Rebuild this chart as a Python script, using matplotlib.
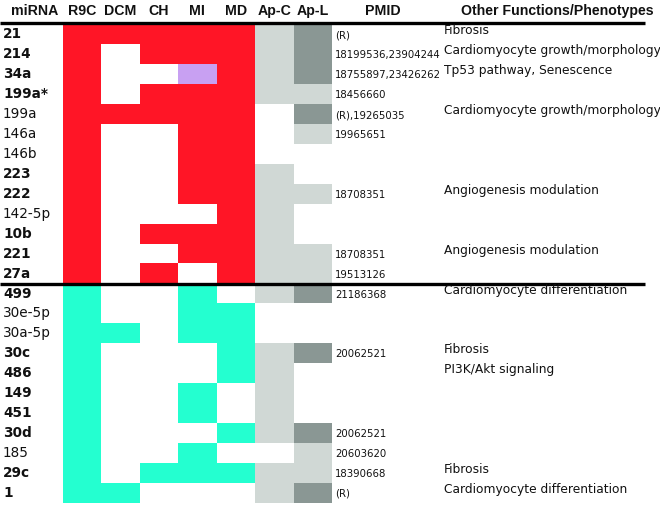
import numpy as np
import matplotlib.pyplot as plt
from matplotlib.colors import to_rgb

# ---- Table content ----
mirnas = ['21', '214', '34a', '199a*', '199a', '146a', '146b', '223', '222',
          '142-5p', '10b', '221', '27a',
          '499', '30e-5p', '30a-5p', '30c', '486', '149', '451', '30d',
          '185', '29c', '1']
bold = [1, 1, 1, 1, 0, 0, 0, 1, 1, 0, 1, 1, 1,
        1, 0, 0, 1, 1, 1, 1, 1, 0, 1, 1]

columns = ['R9C', 'DCM', 'CH', 'MI', 'MD', 'Ap-C', 'Ap-L']

# r=up (red), c=down (cyan), p=purple, w=none, l=light grey, d=dark grey
status = ['rrrrrld', 'rwrrrld', 'rwwprld', 'rwrrrll', 'rrrrrwd',
          'rwwrrwl', 'rwwrrww', 'rwwrrlw', 'rwwrrll', 'rwwwrlw',
          'rwrrrlw', 'rwwrrll', 'rwrwrll',
          'cwwcwld', 'cwwccww', 'ccwccww', 'cwwwcld', 'cwwwclw',
          'cwwcwlw', 'cwwcwlw', 'cwwwcld', 'cwwcwwl', 'cwcccll',
          'ccwwwld']

pmids = ['(R)', '18199536,23904244', '18755897,23426262', '18456660',
         '(R),19265035', '19965651', '', '', '18708351', '', '', '18708351',
         '19513126',
         '21186368', '', '', '20062521', '', '', '', '20062521', '20603620',
         '18390668', '(R)']

functions = ['Fibrosis', 'Cardiomyocyte growth/morphology',
             'Tp53 pathway, Senescence', '', 'Cardiomyocyte growth/morphology',
             '', '', '', 'Angiogenesis modulation', '', '',
             'Angiogenesis modulation', '',
             'Cardiomyocyte differentiation', '', '', 'Fibrosis',
             'PI3K/Akt signaling', '', '', '', '', 'Fibrosis',
             'Cardiomyocyte differentiation']

palette = {'r': '#ff1526', 'c': '#24ffd0', 'p': '#c8a0f2', 'w': '#ffffff',
           'l': '#d0d8d5', 'd': '#8a9794'}

# ---- Geometry (pixel coordinates) ----
x0, col_w = 63, 38.4
y0, row_h = 24.5, 19.93
n_rows = len(mirnas)
n_up = 13

fig = plt.figure(figsize=(6.6, 5.05), dpi=100)
ax = fig.add_axes([0, 0, 1, 1])
ax.set_xlim(0, 660)
ax.set_ylim(505, 0)
ax.axis('off')

rgb = np.array([[to_rgb(palette[ch]) for ch in row] for row in status])
ax.imshow(rgb, extent=(x0, x0 + col_w * len(columns), y0 + row_h * n_rows, y0),
          interpolation='nearest', aspect='auto')

# header
hdr = dict(fontsize=10.2, fontweight='bold', family='Liberation Sans',
           ha='center', va='center', color='#111111')
ax.text(35, 11, 'miRNA', **hdr)
for i, c in enumerate(columns):
    ax.text(x0 + col_w * (i + 0.5), 11, c, **hdr)
ax.text(383, 11, 'PMID', **hdr)
ax.text(557, 11, 'Other Functions/Phenotypes', **hdr)

ax.plot([0, 645], [23, 23], color='black', lw=2.4, solid_capstyle='butt')
ax.plot([0, 645], [y0 + row_h * n_up] * 2, color='black', lw=2.4,
        solid_capstyle='butt')

# rows
for i, name in enumerate(mirnas):
    yc = y0 + row_h * (i + 0.5)
    ax.text(3, yc, name, fontsize=9.8, fontweight='bold' if bold[i] else 'normal',
            family='DejaVu Sans', va='center', ha='left', color='#111111')
    if pmids[i]:
        t = ax.text(335, yc + 1, pmids[i], fontsize=7.3, family='DejaVu Sans',
                    va='center', ha='left', color='#111111')
        t.set_clip_path(plt.Rectangle((332, yc - 10), 109, 20,
                                      transform=ax.transData))
    if functions[i]:
        ax.text(444, yc - 3.5, functions[i], fontsize=8.8, family='DejaVu Sans',
                va='center', ha='left', color='#111111')

fig.savefig('out.png', dpi=100)
